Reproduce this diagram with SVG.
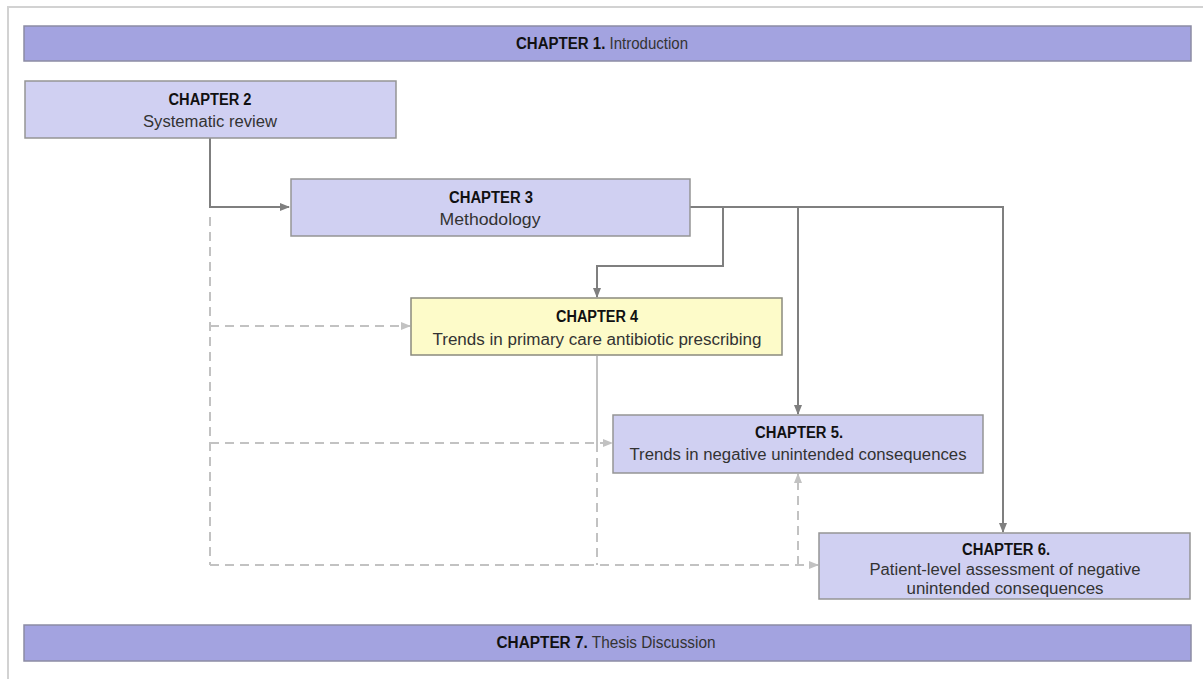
<svg xmlns="http://www.w3.org/2000/svg" width="1203" height="679" viewBox="0 0 1203 679">
<style>
.bar{fill:#a3a3e0;stroke:#8c8ca4;stroke-width:1.5}
.box{fill:#d0d0f2;stroke:#959595;stroke-width:1.5}
.ybox{fill:#fdfbc9;stroke:#8a8a7e;stroke-width:1.5}
text{font-family:"Liberation Sans",Arial,sans-serif;font-size:16px;fill:#333;text-anchor:middle}
.b{font-weight:bold;fill:#111}
.solid{fill:none;stroke:#7f7f7f;stroke-width:2}
.light{fill:none;stroke:#c2c2c2;stroke-width:2}
.dash{fill:none;stroke:#c2c2c2;stroke-width:2;stroke-dasharray:9 6}
</style>
<defs>
<marker id="ah" markerWidth="10" markerHeight="10" refX="9" refY="5" orient="auto" markerUnits="userSpaceOnUse">
<path d="M0,1 L10,5 L0,9 Z" fill="#7f7f7f"/>
</marker>
<marker id="ahl" markerWidth="10" markerHeight="10" refX="9" refY="5" orient="auto" markerUnits="userSpaceOnUse">
<path d="M0,1 L10,5 L0,9 Z" fill="#c2c2c2"/>
</marker>
</defs>
<rect width="1203" height="679" fill="#fff"/>
<path d="M8,679 V7 H1203" fill="none" stroke="#d2d2d2" stroke-width="2"/>

<g id="connectors">
<path class="solid" d="M210,138 V207 H289" marker-end="url(#ah)"/>
<path class="solid" d="M690,207 H1003 V532" marker-end="url(#ah)"/>
<path class="solid" d="M723,207 V266 H597 V297" marker-end="url(#ah)"/>
<path class="solid" d="M798,207 V414" marker-end="url(#ah)"/>
<path class="dash" d="M210,217 V565"/>
<path class="dash" d="M210,326 H410" marker-end="url(#ahl)"/>
<path class="dash" d="M210,443 H612" marker-end="url(#ahl)"/>
<path class="dash" d="M210,565 H818" marker-end="url(#ahl)"/>
<path class="light" d="M597,356 V443"/>
<path class="dash" d="M597,443 V565"/>
<path class="dash" d="M798,565 V474" marker-end="url(#ahl)"/>
</g>

<g id="ch1">
<rect class="bar" x="24" y="26" width="1167" height="35"/>
<text x="602" y="49" textLength="172" lengthAdjust="spacingAndGlyphs"><tspan class="b">CHAPTER 1.</tspan> Introduction</text>
</g>
<g id="ch2">
<rect class="box" x="25" y="81" width="371" height="57"/>
<text class="b" x="210" y="105" textLength="83" lengthAdjust="spacingAndGlyphs">CHAPTER 2</text>
<text x="210" y="127" textLength="134" lengthAdjust="spacingAndGlyphs">Systematic review</text>
</g>
<g id="ch3">
<rect class="box" x="291" y="179" width="399" height="57"/>
<text class="b" x="491" y="203" textLength="84" lengthAdjust="spacingAndGlyphs">CHAPTER 3</text>
<text x="490" y="225" textLength="101" lengthAdjust="spacingAndGlyphs">Methodology</text>
</g>
<g id="ch4">
<rect class="ybox" x="411" y="298" width="371" height="57"/>
<text class="b" x="597" y="322" textLength="82" lengthAdjust="spacingAndGlyphs">CHAPTER 4</text>
<text x="597" y="345" textLength="329" lengthAdjust="spacingAndGlyphs">Trends in primary care antibiotic prescribing</text>
</g>
<g id="ch5">
<rect class="box" x="613" y="415" width="370" height="58"/>
<text class="b" x="799" y="438" textLength="88" lengthAdjust="spacingAndGlyphs">CHAPTER 5.</text>
<text x="798" y="460" textLength="337" lengthAdjust="spacingAndGlyphs">Trends in negative unintended consequences</text>
</g>
<g id="ch6">
<rect class="box" x="819" y="533" width="371" height="66"/>
<text class="b" x="1006" y="555" textLength="88" lengthAdjust="spacingAndGlyphs">CHAPTER 6.</text>
<text x="1005" y="575" textLength="271" lengthAdjust="spacingAndGlyphs">Patient-level assessment of negative</text>
<text x="1005" y="594" textLength="197" lengthAdjust="spacingAndGlyphs">unintended consequences</text>
</g>
<g id="ch7">
<rect class="bar" x="24" y="625" width="1167" height="36"/>
<text x="606" y="648" textLength="219" lengthAdjust="spacingAndGlyphs"><tspan class="b">CHAPTER 7.</tspan> Thesis Discussion</text>
</g>
</svg>
